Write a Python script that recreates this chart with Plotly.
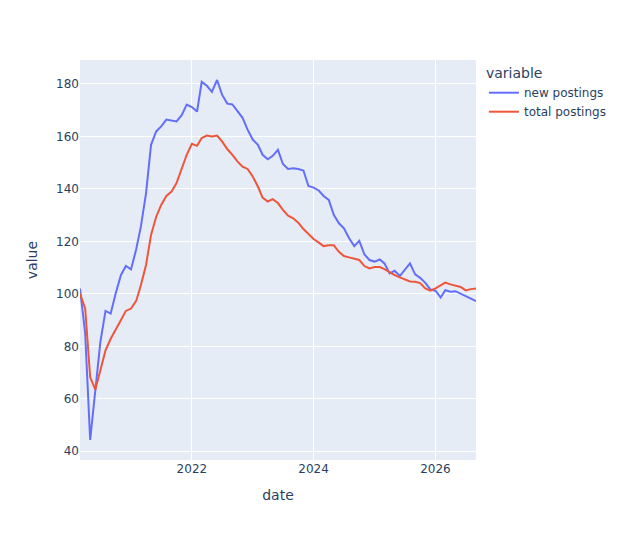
import pandas as pd
import plotly.express as px

# monthly dates, March 2020 through September 2026
dates = pd.date_range('2020-03-01', '2026-09-01', freq='MS')

new_postings = [
    102.0, 85.0, 44.3, 63.5, 81.6, 93.5, 92.5, 100.1, 107.1, 110.6,
    109.3, 117.0, 125.6, 138.3, 156.8, 161.9, 163.8, 166.4, 166.0, 165.7,
    168.1, 172.1, 171.2, 169.5, 180.8, 179.3, 177.0, 181.5, 175.9, 172.5,
    172.2, 169.7, 167.1, 162.6, 158.8, 156.8, 153.0, 151.3, 152.6, 154.9,
    149.5, 147.6, 147.9, 147.6, 147.0, 141.1, 140.5, 139.4, 137.3, 135.8,
    130.1, 126.9, 125.0, 121.2, 118.2, 120.2, 115.0, 112.9, 112.3, 113.1,
    111.6, 107.8, 108.8, 106.8, 109.1, 111.6, 107.4, 106.1, 104.2, 101.7,
    101.2, 98.6, 101.4, 100.8, 101.0, 100.1, 99.2, 98.2, 97.2,
]

total_postings = [
    100.1, 94.4, 68.3, 63.5, 70.8, 78.5, 82.9, 86.1, 89.9, 93.5,
    94.4, 97.3, 103.3, 111.0, 122.4, 129.4, 133.9, 137.3, 139.0, 142.2,
    147.3, 153.0, 157.2, 156.4, 159.4, 160.3, 160.0, 160.3, 158.1, 155.2,
    153.0, 150.5, 148.5, 147.6, 144.7, 140.9, 136.7, 135.2, 136.1, 134.6,
    132.0, 129.8, 128.8, 127.1, 124.7, 122.8, 120.9, 119.5, 118.2, 118.5,
    118.5, 116.0, 114.4, 113.9, 113.5, 112.9, 110.6, 109.7, 110.2, 110.2,
    109.4, 108.2, 107.1, 106.3, 105.5, 104.7, 104.6, 104.1, 102.1, 101.2,
    102.1, 103.2, 104.3, 103.6, 103.2, 102.6, 101.3, 101.8, 102.0,
]

df = pd.DataFrame({
    'date': dates,
    'new postings': new_postings,
    'total postings': total_postings,
})

fig = px.line(df, x='date', y=['new postings', 'total postings'])

# verdana-like font, as in the original render
fig.update_layout(width=623, height=540, font=dict(family='DejaVu Sans'))

# no page margin so the figure sits at the window corner, no modebar
fig.write_html('out.html', config={'displayModeBar': False},
               post_script="document.body.style.margin='0';")
